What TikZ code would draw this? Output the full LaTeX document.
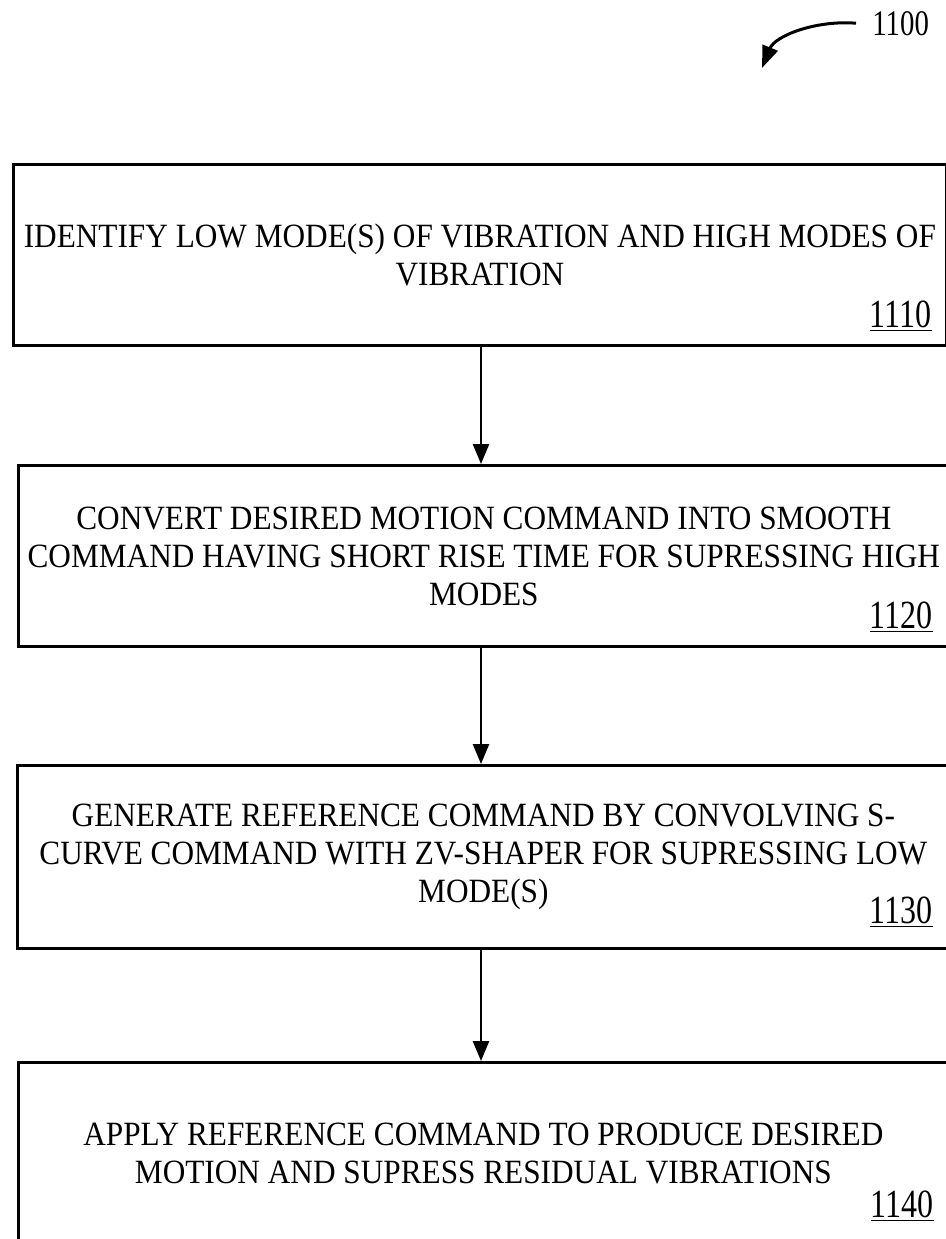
\documentclass[tikz,border=0pt]{standalone}
\usepackage{fontspec}
\setmainfont{Liberation Serif}[FakeStretch=0.92]
\newfontfamily\refnumfont{Liberation Serif}[FakeStretch=0.8]
\usetikzlibrary{positioning,arrows.meta}
\tikzset{
  stepbox/.style={draw=black,line width=1.4pt,anchor=north west,align=center,
    inner sep=0pt,font=\fontsize{17}{19}\selectfont},
  flow/.style={-{Triangle[length=10pt,width=8pt]},line width=1.3pt},
  refnum/.style={font=\fontsize{20}{22}\refnumfont,inner sep=0pt,anchor=base east}
}
\begin{document}
\begin{tikzpicture}[x=0.5pt,y=-0.5pt]
  \useasboundingbox (0,0) rectangle (946,1239);
  % figure number
  \node[refnum,font=\fontsize{18}{20}\refnumfont,anchor=base west] (fig) at (872,35) {1100};
  \coordinate (figtip) at (762,68);
  \draw[-{Triangle[length=11pt,width=8pt]},line width=1.5pt]
    ([xshift=-8pt]fig.west) .. controls (815,20) and (775,36) .. (figtip);
  % steps
  \node[stepbox,minimum width=466.5pt,minimum height=90.5pt] (identify) at (12,163)
    {IDENTIFY LOW MODE(S) OF VIBRATION AND HIGH MODES OF\\VIBRATION};
  \node[stepbox,minimum width=465.5pt,minimum height=90.5pt] (convert) at (17,464)
    {CONVERT DESIRED MOTION COMMAND INTO SMOOTH\\COMMAND HAVING SHORT RISE TIME FOR SUPRESSING HIGH\\MODES};
  \node[stepbox,minimum width=466pt,minimum height=91.5pt] (generate) at (16,764)
    {GENERATE REFERENCE COMMAND BY CONVOLVING S-\\CURVE COMMAND WITH ZV-SHAPER FOR SUPRESSING LOW\\MODE(S)};
  \node[stepbox,minimum width=465pt,minimum height=91pt] (apply) at (17,1061)
    {APPLY REFERENCE COMMAND TO PRODUCE DESIRED\\MOTION AND SUPRESS RESIDUAL VIBRATIONS};
  % step numbers
  \node[refnum] (n1110) at (932,327) {\underline{1110}};
  \node[refnum] (n1120) at (933,628) {\underline{1120}};
  \node[refnum] (n1130) at (933,923) {\underline{1130}};
  \node[refnum] (n1140) at (934,1217) {\underline{1140}};
  % connectors
  \coordinate (axis) at (481,0);
  \draw[flow] (identify.south -| axis) -- (convert.north -| axis);
  \draw[flow] (convert.south -| axis) -- (generate.north -| axis);
  \draw[flow] (generate.south -| axis) -- (apply.north -| axis);
\end{tikzpicture}
\end{document}
